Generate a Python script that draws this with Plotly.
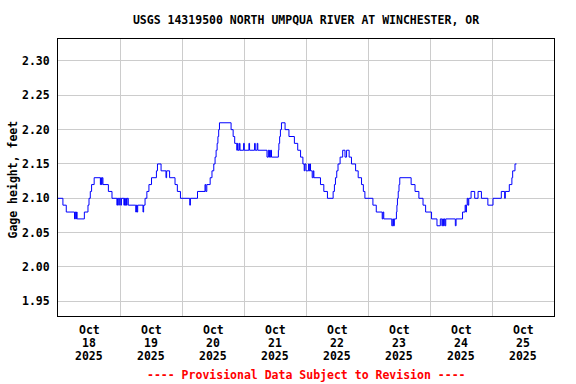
import pandas as pd
import plotly.graph_objects as go

title_text = "USGS 14319500 NORTH UMPQUA RIVER AT WINCHESTER, OR"
footer_text = "---- Provisional Data Subject to Revision ----"
y_title = "Gage height, feet"
series_start = "2025-10-18 00:00"

# hours after Oct 18 00:00 at which the gage height changes, and the new value (ft)
hours = [
    0.0, 1.9, 3.2, 6.4, 6.65, 6.9, 7.15, 7.4, 10.2, 11.6, 12.0, 12.5, 13.0, 14.0,
    16.4, 16.6, 16.8, 17.1, 17.4, 19.5, 20.9, 22.8, 23.05, 23.5, 23.75, 24.3, 24.55,
    25.5, 25.75, 26.0, 26.25, 26.5, 26.75, 27.2, 30.1, 30.35, 30.6, 30.85, 32.9, 33.15,
    33.7, 34.4, 35.2, 36.2, 38.1, 38.5, 39.9, 41.8, 42.05, 43.2, 45.3, 46.2, 47.4,
    51.0, 51.25, 54.0, 56.9, 57.2, 57.6, 58.9, 59.6, 60.3, 60.8, 61.2, 61.6, 61.9,
    62.2, 62.5, 67.0, 67.8, 68.4, 69.2, 69.45, 69.7, 70.2, 70.45, 71.85, 72.1, 73.9,
    74.15, 76.1, 76.35, 77.1, 77.35, 80.9, 81.4, 81.65, 81.9, 82.15, 82.4, 82.65,
    85.3, 85.5, 85.8, 86.1, 86.5, 87.9, 89.4, 91.5, 92.8, 93.9, 94.8, 95.3, 95.55,
    96.0, 97.0, 97.25, 97.5, 97.75, 98.4, 98.8, 99.05, 101.6, 102.9, 104.3, 106.5,
    107.0, 107.4, 107.9, 108.4, 109.2, 110.2, 111.1, 111.7, 112.7, 113.6, 115.2,
    116.2, 117.5, 118.2, 118.8, 121.9, 123.2, 125.5, 125.8, 126.1, 129.2, 129.6,
    129.85, 130.2, 131.0, 131.2, 131.4, 131.7, 132.0, 132.3, 136.7, 138.2, 139.7,
    141.3, 142.3, 144.6, 146.7, 148.0, 148.6, 148.9, 149.2, 149.5, 149.8, 150.1,
    153.8, 154.1, 156.6, 157.6, 157.9, 158.1, 158.4, 158.7, 159.0, 159.9, 161.3,
    162.6, 163.9, 166.4, 168.4, 171.6, 172.9, 173.15, 174.7, 175.7, 176.0, 176.9, 177.5,
]
gage_ft = [
    2.10, 2.09, 2.08, 2.07, 2.08, 2.07, 2.08, 2.07, 2.08, 2.09, 2.10, 2.11, 2.12, 2.13,
    2.12, 2.13, 2.12, 2.13, 2.12, 2.11, 2.10, 2.09, 2.10, 2.09, 2.10, 2.09, 2.10,
    2.09, 2.10, 2.09, 2.10, 2.09, 2.10, 2.09, 2.08, 2.09, 2.08, 2.09, 2.08, 2.09,
    2.10, 2.11, 2.12, 2.13, 2.14, 2.15, 2.14, 2.13, 2.14, 2.13, 2.12, 2.11, 2.10,
    2.09, 2.10, 2.11, 2.12, 2.11, 2.12, 2.13, 2.14, 2.15, 2.16, 2.17, 2.18, 2.19,
    2.20, 2.21, 2.20, 2.19, 2.18, 2.17, 2.18, 2.17, 2.18, 2.17, 2.18, 2.17, 2.18,
    2.17, 2.18, 2.17, 2.18, 2.17, 2.16, 2.17, 2.16, 2.17, 2.16, 2.17, 2.16,
    2.17, 2.18, 2.19, 2.20, 2.21, 2.20, 2.19, 2.18, 2.17, 2.16, 2.15, 2.14, 2.15,
    2.14, 2.15, 2.14, 2.15, 2.14, 2.13, 2.14, 2.13, 2.12, 2.11, 2.10, 2.11,
    2.12, 2.13, 2.14, 2.15, 2.16, 2.17, 2.16, 2.17, 2.16, 2.15, 2.14,
    2.13, 2.12, 2.11, 2.10, 2.09, 2.08, 2.07, 2.08, 2.07, 2.06, 2.07,
    2.06, 2.07, 2.08, 2.09, 2.10, 2.11, 2.12, 2.13, 2.12, 2.11, 2.10,
    2.09, 2.08, 2.07, 2.06, 2.07, 2.06, 2.07, 2.06, 2.07, 2.06, 2.07,
    2.06, 2.07, 2.08, 2.09, 2.08, 2.09, 2.10, 2.09, 2.10, 2.11, 2.10,
    2.11, 2.10, 2.09, 2.10, 2.11, 2.10, 2.11, 2.12, 2.13, 2.14, 2.15, 2.15,
]

month_label = "Oct"
day_labels = ["18", "19", "20", "21", "22", "23", "24", "25"]
year_label = "2025"
y_ticks = [1.95, 2.00, 2.05, 2.10, 2.15, 2.20, 2.25, 2.30]
y_range = [1.9286, 2.332]

FONT = "DejaVu Sans Mono"
FS = 11.5

t0 = pd.Timestamp(series_start)
times = t0 + pd.to_timedelta(hours, unit="h")
noons = [t0 + pd.Timedelta(days=i, hours=12) for i in range(len(day_labels))]
midnights = [t0 + pd.Timedelta(days=i) for i in range(1, len(day_labels))]

fig = go.Figure()
fig.add_trace(go.Scatter(
    x=times, y=gage_ft, mode="lines",
    line=dict(color="#0000ff", width=1, shape="hv"),
    showlegend=False, hoverinfo="x+y",
))

annotations = []
for n, d in zip(noons, day_labels):
    for txt, shift in ((month_label, -14), (d, -27), (year_label, -40)):
        annotations.append(dict(
            x=n, xref="x", y=0, yref="paper", yshift=shift, text=txt,
            showarrow=False, xanchor="center", yanchor="middle",
            font=dict(family=FONT, size=FS, color="black", weight="bold"),
        ))
annotations.append(dict(
    x=0.5, xref="paper", y=0, yref="paper", yshift=-59, text=footer_text,
    showarrow=False, xanchor="center", yanchor="middle",
    font=dict(family=FONT, size=FS, color="#ff0000", weight="bold"),
))
annotations.append(dict(
    x=0, xref="paper", xshift=-46, y=0.5, yref="paper", yshift=-2, text=y_title,
    textangle=-90, showarrow=False, xanchor="center", yanchor="middle",
    font=dict(family=FONT, size=FS, color="black", weight="bold"),
))

fig.update_layout(
    width=576, height=384,
    margin=dict(l=58, r=22, t=39, b=68, pad=0),
    paper_bgcolor="white", plot_bgcolor="white",
    title=dict(text=title_text, x=0.5, xref="paper", xanchor="center",
               y=1 - 20 / 384, yref="container", yanchor="middle",
               font=dict(family=FONT, size=FS, color="black", weight="bold")),
    annotations=annotations,
    xaxis=dict(
        range=[t0, t0 + pd.Timedelta(days=len(day_labels))],
        tickvals=noons, ticktext=[""] * len(noons), showgrid=False,
        ticks="", showline=True, linecolor="black", linewidth=1, mirror=True,
        zeroline=False,
        minor=dict(tickvals=midnights, showgrid=True, gridcolor="#cccccc",
                   gridwidth=1, ticks=""),
    ),
    yaxis=dict(
        range=y_range, tickvals=y_ticks, tickformat=".2f",
        showgrid=True, gridcolor="#cccccc", gridwidth=1,
        ticks="outside", ticklen=5, tickcolor="rgba(0,0,0,0)",
        showline=True, linecolor="black", linewidth=1, mirror=True, zeroline=False,
        tickfont=dict(family=FONT, size=FS, color="black", weight="bold"),
    ),
)

fig.write_html(
    "out.html",
    config={"displayModeBar": False},
    post_script="document.body.style.margin='0';document.body.style.overflow='hidden';",
)
